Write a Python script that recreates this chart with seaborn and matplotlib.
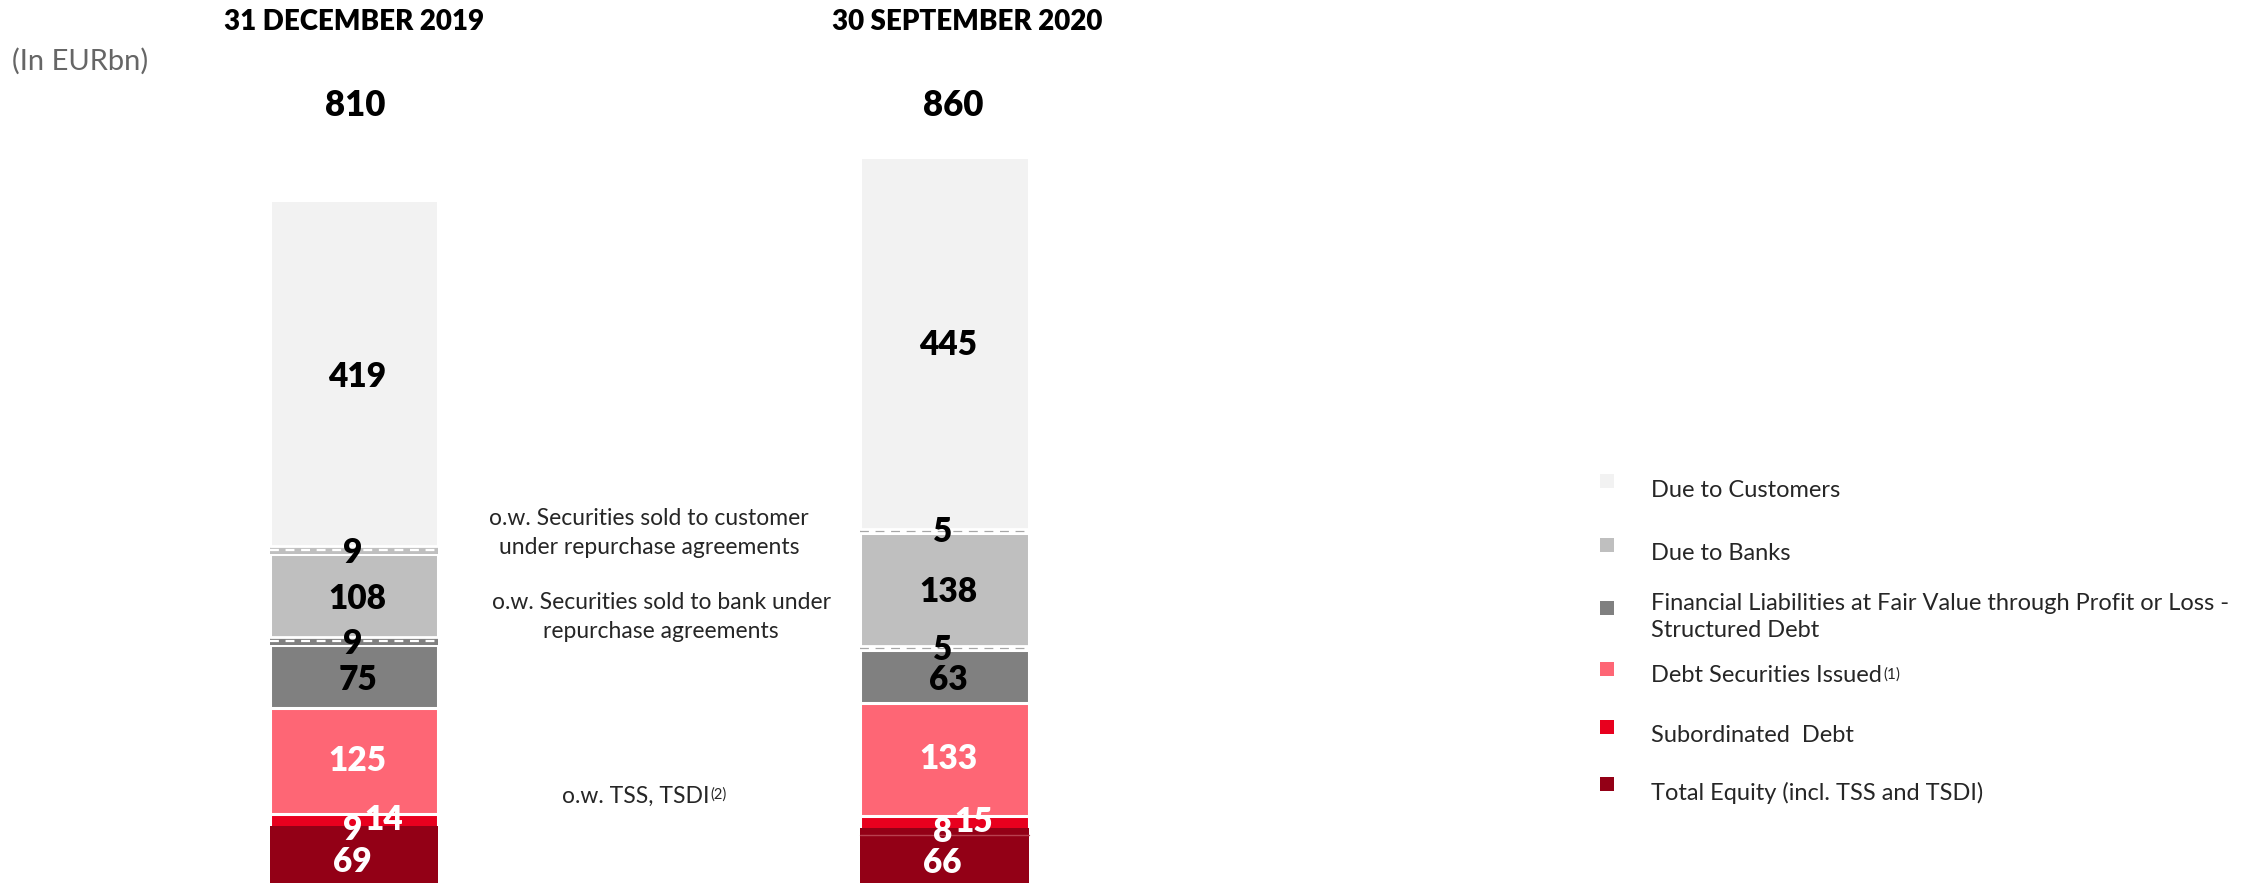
import matplotlib
matplotlib.use("Agg")
import matplotlib.pyplot as plt
import numpy as np
import pandas as pd
import seaborn as sns

# ---------------- data (EUR bn) ----------------
periods = ["31 DECEMBER 2019", "30 SEPTEMBER 2020"]
totals = [810, 860]
equity = [69, 66]
subordinated_debt = [14, 15]
debt_securities = [125, 133]
fin_liabilities = [75, 63]
due_to_banks = [108, 138]
due_to_customers = [419, 445]
repo_customers = [9, 5]   # o.w. securities sold to customer under repo
repo_banks = [9, 5]       # o.w. securities sold to bank under repo
tss_tsdi = [9, 8]         # o.w. TSS, TSDI

legend_labels = [
    "Due to Customers",
    "Due to Banks",
    "Financial Liabilities at Fair Value through Profit or Loss -\nStructured Debt",
    "Debt Securities Issued",
    "Subordinated  Debt",
    "Total Equity (incl. TSS and TSDI)",
]
legend_sups = ["", "", "", "(1)", "", ""]

# ---------------- style ----------------
sns.set_style("white")
plt.rcParams["font.family"] = ["Lato", "DejaVu Sans"]

W, H = 2265, 883
fig = plt.figure(figsize=(W / 100, H / 100), dpi=100)
ax = fig.add_axes([0, 0, 1, 1])

# stacking order bottom -> top
stack_vals = [equity, subordinated_debt, debt_securities, fin_liabilities,
              due_to_banks, due_to_customers]
seg_colors = ["#930016", "#e8001e", "#fe6675", "#808080", "#bfbfbf", "#f2f2f2"]
num_colors = ["white", "white", "white", "black", "black", "black"]
num_shift = {5: 0, 4: 0, 3: -4, 2: 0}
edge_w = [0, 2.2, 2.2, 2.2, 2.2, 2.2]

BAR_W = 0.286
K = 0.845         # px per unit
BASE = 884        # px from top where value 0 sits
X0, XU = 354, 590.5

vals = np.array(stack_vals, dtype=float)   # (6, 2)
tops = np.cumsum(vals, axis=0)
bottoms = tops - vals

# overlay cumulative bars (largest first) with seaborn
for k in range(len(stack_vals) - 1, -1, -1):
    df = pd.DataFrame({"period": periods, "cum": tops[k]})
    sns.barplot(data=df, x="period", y="cum", order=periods, color=seg_colors[k],
                saturation=1, width=BAR_W, edgecolor="white", linewidth=edge_w[k],
                errorbar=None, ax=ax)

# repo bands ("of which") at bottom of customers and banks segments
band_face = [["#bfbfbf", "#808080"], ["white", "white"]]
band_dash = ["white", "#a6a6a6"]
for i in range(len(periods)):
    for j, (seg_idx, repo) in enumerate([(5, repo_customers), (4, repo_banks)]):
        b = bottoms[seg_idx][i]
        ax.bar(i, repo[i], bottom=b, width=BAR_W, color=band_face[i][j], linewidth=0)
        ax.plot([i - BAR_W / 2, i + BAR_W / 2], [b + repo[i] / 2] * 2,
                ls=(0, (4, 3)), color=band_dash[i], lw=1.6, solid_capstyle="butt")
        ax.plot([i - BAR_W / 2, i + BAR_W / 2], [b + repo[i]] * 2,
                color="white", lw=2.0)

# TSS/TSDI faint separator in equity (visible on 2020 bar)
tss_line = [None, "#b8404f"]
for i in range(len(periods)):
    if tss_line[i]:
        y = equity[i] - tss_tsdi[i]
        ax.plot([i - BAR_W / 2, i + BAR_W / 2], [y, y], color=tss_line[i], lw=1.0)

# ---------------- numbers in bars ----------------
NUM_FS = 24
NUM_W = "heavy"
for i in range(len(periods)):
    for k in [5, 4, 3, 2]:
        ax.text(i + 0.006, (bottoms[k][i] + tops[k][i]) / 2 + num_shift[k],
                f"{int(vals[k][i])}", ha="center", va="center", fontsize=NUM_FS,
                fontweight=NUM_W, color=num_colors[k])
    ax.text(i - 0.003, bottoms[5][i] + 1, f"{repo_customers[i]}", ha="center", va="center",
            fontsize=NUM_FS, fontweight=NUM_W, color="black")
    ax.text(i - 0.003, bottoms[4][i] + 0.5, f"{repo_banks[i]}", ha="center", va="center",
            fontsize=NUM_FS, fontweight=NUM_W, color="black")
    ax.text(i + 0.05, (bottoms[1][i] + tops[1][i]) / 2, f"{subordinated_debt[i]}",
            ha="center", va="center", fontsize=NUM_FS, fontweight=NUM_W, color="white")
    ax.text(i - 0.003, equity[i] - tss_tsdi[i] / 2 - 1, f"{tss_tsdi[i]}",
            ha="center", va="center", fontsize=NUM_FS, fontweight=NUM_W, color="white")
    ax.text(i - 0.003, (equity[i] - tss_tsdi[i]) / 2 - 4, f"{equity[i]}",
            ha="center", va="center", fontsize=NUM_FS, fontweight=NUM_W, color="white")

ax.set_xlim(-X0 / XU, (W - X0) / XU)
ax.set_ylim((BASE - H) / K, BASE / K)
ax.axis("off")

# ---------------- header texts ----------------
def fx(px):
    return px / W

def fy(py):
    return 1 - py / H

title_x = [354, 967]
total_x = [355, 953]
for i, p in enumerate(periods):
    fig.text(fx(title_x[i]), fy(22), p, ha="center", va="center", fontsize=20,
             fontweight="heavy", color="black")
    fig.text(fx(total_x[i]), fy(105), f"{totals[i]}", ha="center", va="center",
             fontsize=25, fontweight="heavy", color="black")

TXT_W = "normal"
fig.text(fx(12), fy(61), "(In EURbn)", ha="left", va="center", fontsize=21,
         fontweight=TXT_W, color="#666666")

ANN_FS = 16.5
ANN_C = "#262626"
fig.text(fx(649), fy(533), "o.w. Securities sold to customer\nunder repurchase agreements",
         ha="center", va="center", fontsize=ANN_FS, fontweight=TXT_W, color=ANN_C,
         linespacing=1.45)
fig.text(fx(661), fy(617), "o.w. Securities sold to bank under\nrepurchase agreements",
         ha="center", va="center", fontsize=ANN_FS, fontweight=TXT_W, color=ANN_C,
         linespacing=1.45)
t_tss = fig.text(fx(562), fy(796), "o.w. TSS, TSDI", ha="left", va="center",
                 fontsize=ANN_FS, fontweight=TXT_W, color=ANN_C)

# ---------------- legend ----------------
leg_colors = seg_colors[::-1]
sq_y = [481, 545, 608, 669, 727, 784]
txt_y = [491, 553, 617, 676, 735, 793]
LEG_FS = 17
leg_texts = []
for j, lab in enumerate(legend_labels):
    fig.patches.append(matplotlib.patches.Rectangle(
        (fx(1600), fy(sq_y[j] + 7)), 14 / W, 14 / H, transform=fig.transFigure,
        facecolor=leg_colors[j], edgecolor="none"))
    t = fig.text(fx(1651), fy(txt_y[j]), lab, ha="left", va="center", fontsize=LEG_FS,
                 fontweight=TXT_W, color=ANN_C, linespacing=1.35)
    leg_texts.append(t)

# superscripts
fig.canvas.draw()
r = fig.canvas.get_renderer()

def add_sup(t, s, fs):
    bb = t.get_window_extent(renderer=r)
    fig.text((bb.x1 + 1) / W, (bb.y1 - 2) / H, s, ha="left", va="top",
             fontsize=fs, fontweight=TXT_W, color=ANN_C)

for j, s in enumerate(legend_sups):
    if s:
        add_sup(leg_texts[j], s, 11)
add_sup(t_tss, "(2)", 10.5)

fig.savefig("out.png", dpi=100)
